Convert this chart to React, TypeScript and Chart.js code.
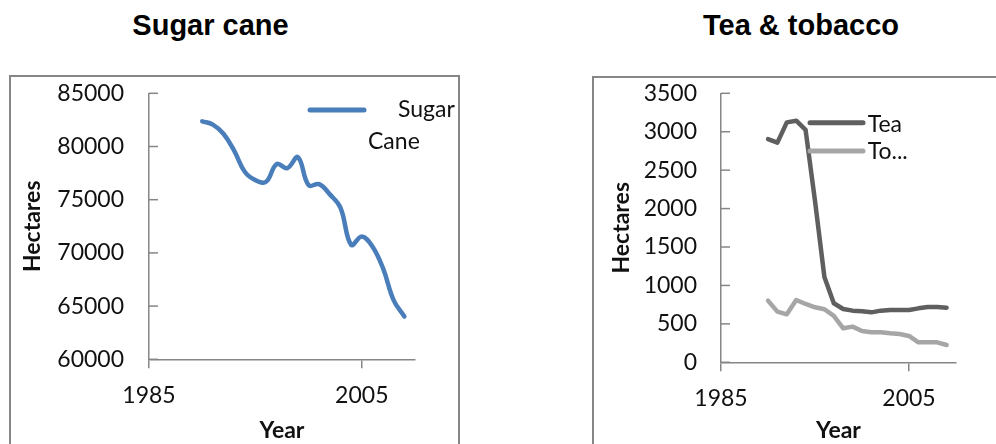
import React, { useEffect, useRef } from "react";
import { Chart, registerables } from "chart.js";

Chart.register(...registerables);
Chart.defaults.font.family = "Lato, 'Open Sans', sans-serif";

// ---------- data ----------
const years = [1990, 1991, 1992, 1993, 1994, 1995, 1996, 1997, 1998, 1999, 2000, 2001, 2002, 2003, 2004, 2005, 2006, 2007, 2008, 2009];
const sugarCane = [82370, 82060, 81200, 79620, 77630, 76840, 76680, 78350, 77970, 78990, 76360, 76460, 75500, 74240, 70760, 71550, 70600, 68540, 65540, 64020];
const tea = [2905, 2858, 3122, 3144, 3023, 2100, 1110, 768, 694, 672, 663, 650, 672, 681, 681, 681, 702, 720, 720, 711];
const tobacco = [802, 659, 624, 811, 759, 716, 690, 603, 442, 464, 408, 390, 390, 377, 369, 343, 260, 260, 260, 225];

const xTickYears = [1985, 2005];
const sugarTicks = [60000, 65000, 70000, 75000, 80000, 85000];
const teaTicks = [0, 500, 1000, 1500, 2000, 2500, 3000, 3500];

const sugarLabel = "Sugar Cane";
const teaLabel = "Tea";
const tobaccoLabel = "Tobacco";
const sugarLegendText = ["Sugar", "Cane"];
const teaLegendText = ["Tea"];
const tobaccoLegendText = ["To..."];

const sugarTitle = "Sugar cane";
const teaTitle = "Tea & tobacco";
const xAxisTitle = "Year";
const yAxisTitle = "Hectares";

// ---------- styles ----------
const AXIS = "#868686";
const TEXT = "#111111";

const inwardTicks = {
  id: "inwardTicks",
  afterDraw(chart: any, _a: any, opts: any) {
    const y = chart.scales.y;
    const { ctx, chartArea } = chart;
    ctx.save();
    ctx.strokeStyle = opts.color;
    ctx.lineWidth = opts.width;
    y.ticks.forEach((t: any) => {
      const py = y.getPixelForValue(t.value);
      ctx.beginPath();
      ctx.moveTo(chartArea.left, py);
      ctx.lineTo(chartArea.left + opts.length, py);
      ctx.stroke();
    });
    ctx.restore();
  },
};

const lineLegend = {
  id: "lineLegend",
  afterDraw(chart: any, _a: any, opts: any) {
    const ctx = chart.ctx;
    ctx.save();
    (opts.items || []).forEach((item: any) => {
      const ds = chart.data.datasets[item.dataset];
      ctx.strokeStyle = ds.borderColor;
      ctx.lineWidth = opts.lineWidth;
      ctx.lineCap = "round";
      ctx.beginPath();
      ctx.moveTo(item.x0, item.y);
      ctx.lineTo(item.x1, item.y);
      ctx.stroke();
      ctx.fillStyle = TEXT;
      ctx.font = opts.font;
      ctx.textAlign = "left";
      ctx.textBaseline = "alphabetic";
      item.text.forEach((line: string, i: number) => {
        ctx.fillText(line, item.tx[i], item.ty[i]);
      });
    });
    ctx.restore();
  },
};

function toPoints(values: number[]) {
  return years.map((x, i) => ({ x, y: values[i] }));
}

function buildConfig(p: any) {
  return {
    type: "line",
    data: { datasets: p.datasets },
    plugins: [inwardTicks, lineLegend],
    options: {
      animation: false,
      responsive: false,
      maintainAspectRatio: false,
      layout: { padding: { top: p.padTop, right: p.padRight, left: 0, bottom: 0 } },
      plugins: {
        legend: { display: false },
        title: { display: false },
        tooltip: { enabled: false },
        inwardTicks: { color: AXIS, width: 1.5, length: 9 },
        lineLegend: { items: p.legendItems, lineWidth: 5, font: "23px Lato, 'Open Sans', sans-serif" },
      },
      elements: { point: { radius: 0 } },
      scales: {
        x: {
          type: "linear",
          min: 1985,
          max: 2010,
          afterBuildTicks: (s: any) => {
            s.ticks = xTickYears.map((v) => ({ value: v }));
          },
          afterFit: (s: any) => {
            s.height = p.xHeight;
            s.paddingLeft = 0;
            s.paddingRight = 0;
          },
          ticks: {
            padding: 13,
            maxRotation: 0,
            autoSkip: false,
            color: TEXT,
            font: { size: 23 },
            callback: (v: any) => String(v),
          },
          grid: { display: true, drawOnChartArea: false, drawTicks: true, tickLength: 9, color: AXIS, lineWidth: 1.5 },
          border: { display: true, color: AXIS, width: 1.5 },
          title: { display: true, text: xAxisTitle, color: TEXT, font: { size: 23, weight: "bold" }, padding: { top: 0, bottom: 0 } },
        },
        y: {
          type: "linear",
          min: p.yTicks[0],
          max: p.yTicks[p.yTicks.length - 1],
          afterBuildTicks: (s: any) => {
            s.ticks = p.yTicks.map((v: number) => ({ value: v }));
          },
          afterFit: (s: any) => {
            s.width = p.yWidth;
            s.paddingTop = 0;
            s.paddingBottom = 0;
          },
          ticks: {
            padding: p.yPad,
            color: TEXT,
            font: { size: 23 },
            callback: (v: any) => String(v),
          },
          grid: { display: false, drawTicks: false, tickLength: 0 },
          border: { display: true, color: AXIS, width: 1.5 },
          title: { display: true, text: yAxisTitle, color: TEXT, font: { size: 23, weight: "bold" }, padding: { top: p.yTitlePad, bottom: 0 } },
        },
      },
    },
  };
}

function LineChart(props: any) {
  const ref = useRef<HTMLCanvasElement | null>(null);
  useEffect(() => {
    if (!ref.current) return;
    const chart = new Chart(ref.current, buildConfig(props.cfg) as any);
    return () => chart.destroy();
  }, []);
  return (
    <canvas
      ref={ref}
      width={props.w}
      height={props.h}
      style={{ position: "absolute", left: props.x, top: props.y, width: props.w, height: props.h }}
    />
  );
}

const titleStyle: React.CSSProperties = {
  position: "absolute",
  top: 10.5,
  width: 300,
  textAlign: "center",
  fontFamily: "'Liberation Sans', Arial, sans-serif",
  fontWeight: "bold",
  fontSize: 29,
  lineHeight: "29px",
  color: "#000",
  whiteSpace: "nowrap",
};

export default function App() {
  const sugarCfg = {
    datasets: [
      {
        label: sugarLabel,
        data: toPoints(sugarCane),
        borderColor: "#4A7EBB",
        backgroundColor: "#4A7EBB",
        borderWidth: 4.5,
        tension: 0.4,
        borderCapStyle: "round",
        borderJoinStyle: "round",
        fill: false,
      },
    ],
    yTicks: sugarTicks,
    padTop: 16.3,
    padRight: 43,
    xHeight: 84.7,
    yWidth: 138,
    yPad: 25,
    yTitlePad: 7.6,
    legendItems: [
      { dataset: 0, x0: 299, x1: 353, y: 33, text: sugarLegendText, tx: [387, 357], ty: [40.3, 72.3] },
    ],
  };
  const teaCfg = {
    datasets: [
      {
        label: teaLabel,
        data: toPoints(tea),
        borderColor: "#5F5F5F",
        backgroundColor: "#5F5F5F",
        borderWidth: 4.5,
        tension: 0,
        borderCapStyle: "round",
        borderJoinStyle: "round",
        fill: false,
      },
      {
        label: tobaccoLabel,
        data: toPoints(tobacco),
        borderColor: "#A6A6A6",
        backgroundColor: "#A6A6A6",
        borderWidth: 4.5,
        tension: 0,
        borderCapStyle: "round",
        borderJoinStyle: "round",
        fill: false,
      },
    ],
    yTicks: teaTicks,
    padTop: 15.3,
    padRight: 40,
    xHeight: 81.7,
    yWidth: 127,
    yPad: 24,
    yTitlePad: 13.6,
    legendItems: [
      { dataset: 0, x0: 216, x1: 269, y: 44.7, text: teaLegendText, tx: [273.7], ty: [53.7] },
      { dataset: 1, x0: 216, x1: 269, y: 73, text: tobaccoLegendText, tx: [273.7], ty: [81] },
    ],
  };

  return (
    <div style={{ position: "absolute", left: 0, top: 0, width: 996, height: 444, overflow: "hidden", background: "#fff" }}>
      <div style={{ ...titleStyle, left: 210.5 - 150 }}>{sugarTitle}</div>
      <div style={{ ...titleStyle, left: 801 - 150 }}>{teaTitle}</div>
      <div style={{ position: "absolute", left: 9, top: 75, width: 451, height: 420, border: `2px solid ${AXIS}`, boxSizing: "border-box" }} />
      <div style={{ position: "absolute", left: 592, top: 76, width: 460, height: 420, border: `2px solid ${AXIS}`, boxSizing: "border-box" }} />
      <LineChart x={11} y={77} w={447} h={367} cfg={sugarCfg} />
      <LineChart x={594} y={78} w={402} h={366} cfg={teaCfg} />
    </div>
  );
}
